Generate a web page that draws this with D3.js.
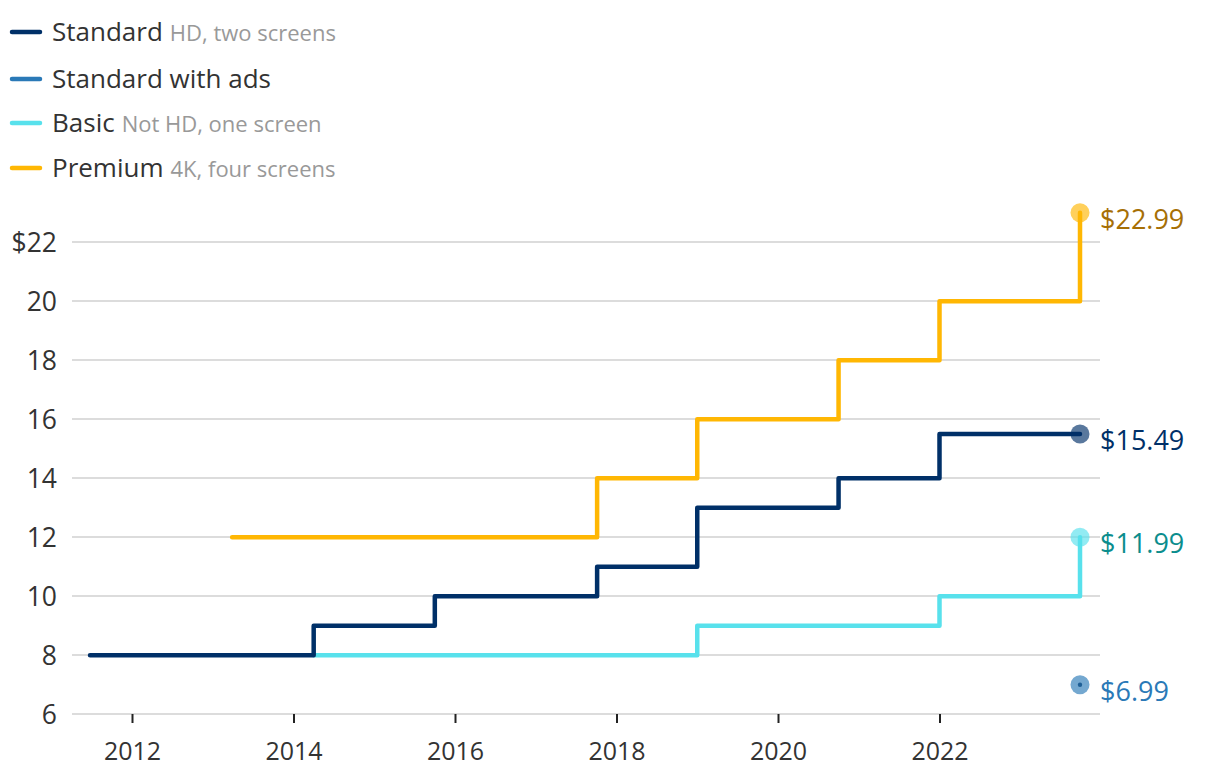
<!DOCTYPE html>
<html><head><meta charset="utf-8">
<script src="https://cdn.jsdelivr.net/npm/d3@7"></script>
<style>
body{margin:0;background:#fff;}
svg{font-family:"Open Sans",sans-serif;}
</style></head>
<body><svg id="c" width="1220" height="780"></svg>
<script>
// Data (time in decimal years, price in USD)
const standardDates = [2011.48, 2014.25, 2015.75, 2017.76, 2019.0, 2020.75, 2022.0, 2023.74];
const standardPrices = [7.99, 8.99, 9.99, 10.99, 12.99, 13.99, 15.49, 15.49];
const basicDates = [2014.25, 2019.0, 2022.0, 2023.74];
const basicPrices = [7.99, 8.99, 9.99, 11.99];
const premiumDates = [2013.24, 2017.76, 2019.0, 2020.75, 2022.0, 2023.74];
const premiumPrices = [11.99, 13.99, 15.99, 17.99, 19.99, 22.99];
const adsDates = [2023.74];
const adsPrices = [6.99];
const yTicks = [6, 8, 10, 12, 14, 16, 18, 20, 22];
const xTicks = [2012, 2014, 2016, 2018, 2020, 2022];
const legendNames = ["Standard", "Standard with ads", "Basic", "Premium"];
const legendNotes = ["HD, two screens", "", "Not HD, one screen", "4K, four screens"];
const endLabels = ["$15.49", "$6.99", "$11.99", "$22.99"];

const colors = ["#003068", "#2a79b7", "#58e1ec", "#ffb703"];
const labelColors = ["#003068", "#2a79b7", "#0b8d8d", "#a66f05"];

const svg = d3.select("#c");
const x = d3.scaleLinear().domain([2012, 2022]).range([132, 939.5]);
const y = d3.scaleLinear().domain([6, 22]).range([714, 242]);

// gridlines
svg.append("g").selectAll("line").data(yTicks).join("line")
  .attr("x1", 72).attr("x2", 1100)
  .attr("y1", d => y(d)).attr("y2", d => y(d))
  .attr("stroke", "#d0d0d0").attr("stroke-width", 1.5);

// y labels
svg.append("g").selectAll("text").data(yTicks).join("text")
  .attr("x", 57).attr("y", d => y(d)).attr("dy", "0.36em")
  .attr("text-anchor", "end").attr("font-size", 26.5).attr("fill", "#333")
  .text(d => d === 22 ? "$" + d : d);

// x axis
const xa = svg.append("g").attr("transform", "translate(0,714)")
  .call(d3.axisBottom(x).tickValues(xTicks).tickFormat(d3.format("d")).tickSize(9).tickPadding(19));
xa.select(".domain").remove();
xa.selectAll(".tick line").attr("stroke", "#222").attr("stroke-width", 2);
xa.selectAll(".tick text").attr("font-size", 25).attr("fill", "#333").attr("font-family", "'Open Sans',sans-serif");

const line = d3.line().x(d => x(d[0])).y(d => y(d[1])).curve(d3.curveStepAfter);
function series(dates, prices) { return dates.map((d, i) => [d, prices[i]]); }

const all = [series(standardDates, standardPrices), series(adsDates, adsPrices), series(basicDates, basicPrices), series(premiumDates, premiumPrices)];

// draw order: basic, premium, standard
[2, 3, 0].forEach(i => {
  const s = all[i];
  svg.append("path").datum(s).attr("d", line)
    .attr("fill", "none").attr("stroke", colors[i]).attr("stroke-width", 4.5)
    .attr("stroke-linejoin", "round").attr("stroke-linecap", "round");
});

// end dots and labels
all.forEach((s, i) => {
  const last = s[s.length - 1];
  svg.append("circle").attr("cx", x(last[0])).attr("cy", y(last[1])).attr("r", 9.5)
    .attr("fill", colors[i]).attr("opacity", 0.65);
  if (i === 1) {
    svg.append("circle").attr("cx", x(last[0])).attr("cy", y(last[1])).attr("r", 2.2).attr("fill", "#1f5f96");
  }
  svg.append("text").attr("x", 1100).attr("y", y(last[1]) + 6).attr("dy", "0.36em")
    .attr("font-size", 27).attr("fill", labelColors[i]).text(endLabels[i]);
});

// legend
const ly = [32, 79, 123, 168];
legendNames.forEach((n, i) => {
  const g = svg.append("g").attr("transform", `translate(0,${ly[i]})`);
  g.append("line").attr("x1", 12).attr("x2", 40).attr("y1", 0).attr("y2", 0)
    .attr("stroke", colors[i]).attr("stroke-width", 4.5).attr("stroke-linecap", "round");
  const t = g.append("text").attr("x", 52).attr("y", 0).attr("dy", "0.36em").attr("font-size", 26).attr("fill", "#333");
  t.append("tspan").text(n);
  if (legendNotes[i]) t.append("tspan").attr("font-size", 22).attr("fill", "#999").attr("dx", 7).text(legendNotes[i]);
});
</script></body></html>
